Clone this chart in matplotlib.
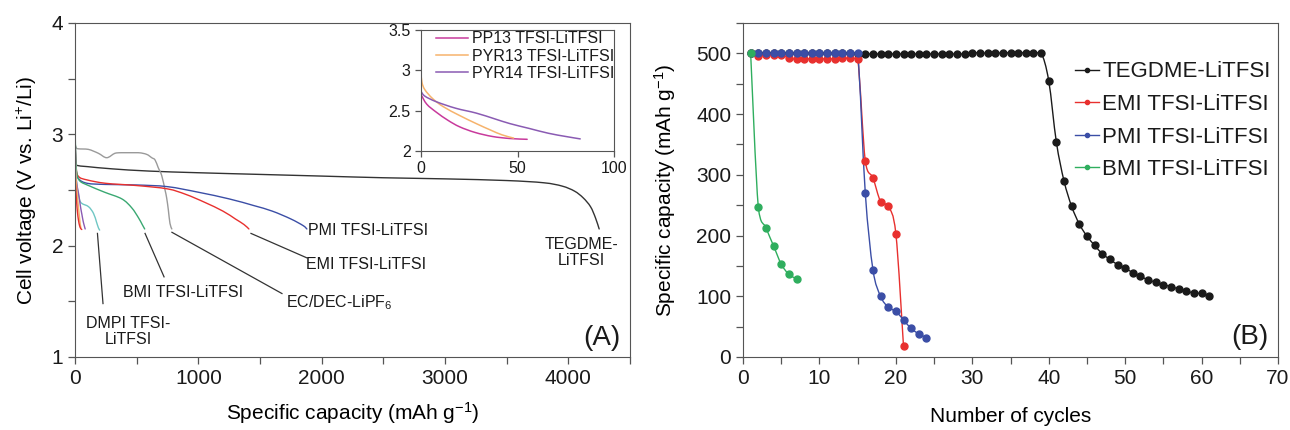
import matplotlib
matplotlib.use("Agg")
import matplotlib.pyplot as plt
from matplotlib.ticker import MultipleLocator
from matplotlib.path import Path
from matplotlib.patches import PathPatch
from matplotlib.lines import Line2D

plt.rcParams['font.family'] = ['Liberation Sans', 'DejaVu Sans']
plt.rcParams['mathtext.fontset'] = 'custom'
plt.rcParams['mathtext.rm'] = 'Liberation Sans'
plt.rcParams['mathtext.it'] = 'Liberation Sans:italic'
plt.rcParams['axes.edgecolor'] = '#555555'
plt.rcParams['text.color'] = '#1a1a1a'
plt.rcParams['xtick.color'] = '#555555'
plt.rcParams['ytick.color'] = '#555555'
plt.rcParams['xtick.labelcolor'] = '#1a1a1a'
plt.rcParams['ytick.labelcolor'] = '#1a1a1a'

# ---------------- (A) discharge profiles ----------------
tegdme_cap = [0, 5, 20, 100, 300, 600, 1000, 1500, 2000, 2500, 3000, 3500, 3800, 3950, 4050, 4120, 4180, 4220, 4250]
tegdme_v = [2.85, 2.74, 2.72, 2.71, 2.69, 2.67, 2.655, 2.64, 2.625, 2.61, 2.60, 2.585, 2.565, 2.535, 2.49, 2.43, 2.35, 2.25, 2.15]

ecdec_cap = [0, 10, 27, 108, 189, 257, 324, 378, 513, 581, 622, 649, 675, 703, 730, 743, 757, 770, 785]
ecdec_v = [2.92, 2.88, 2.87, 2.865, 2.83, 2.79, 2.83, 2.835, 2.835, 2.82, 2.79, 2.77, 2.70, 2.63, 2.50, 2.43, 2.32, 2.20, 2.15]

emi_cap = [0, 10, 30, 100, 250, 500, 750, 900, 1050, 1200, 1300, 1370, 1410]
emi_v = [3.00, 2.70, 2.62, 2.59, 2.56, 2.54, 2.51, 2.46, 2.39, 2.31, 2.24, 2.19, 2.15]

pmi_cap = [0, 10, 30, 100, 250, 500, 750, 1000, 1250, 1450, 1600, 1750, 1850, 1880]
pmi_v = [3.00, 2.68, 2.60, 2.56, 2.55, 2.545, 2.53, 2.48, 2.42, 2.36, 2.31, 2.24, 2.18, 2.15]

bmi_cap = [0, 5, 15, 40, 110, 240, 380, 460, 515, 545, 565]
bmi_v = [3.20, 2.80, 2.65, 2.58, 2.54, 2.48, 2.42, 2.34, 2.25, 2.19, 2.15]

dmpi_cap = [0, 5, 15, 35, 55, 110, 150, 175, 190, 200]
dmpi_v = [3.15, 2.75, 2.55, 2.42, 2.38, 2.35, 2.29, 2.21, 2.16, 2.14]

pp13_cap = [0, 3, 8, 14, 20, 28, 37, 46, 55]
pp13_v = [2.70, 2.58, 2.48, 2.38, 2.30, 2.23, 2.18, 2.155, 2.145]

pyr13_cap = [0, 0.5, 2, 6, 11.5, 20, 28.6, 36, 42, 48]
pyr13_v = [2.97, 2.85, 2.76, 2.65, 2.55, 2.44, 2.34, 2.26, 2.20, 2.16]

pyr14_cap = [0, 2, 8, 18, 28.6, 38, 46, 56, 66, 75, 82.5]
pyr14_v = [2.74, 2.68, 2.61, 2.53, 2.47, 2.40, 2.34, 2.28, 2.22, 2.18, 2.15]

# ---------------- (B) cycling ----------------
tegdme_cyc = list(range(1, 62))
tegdme_q = [500, 500, 500, 500, 500, 500, 500, 500, 500, 500,
            500, 500, 500, 500, 499, 499, 499, 499, 499, 499,
            499, 499, 499, 499, 499, 499, 499, 499, 499, 501,
            501, 500, 500, 501, 501, 501, 501, 501, 501, 455,
            354, 290, 248, 219, 199, 184, 170, 161, 152, 146,
            139, 133, 127, 123, 119, 116, 112, 109, 105, 105, 101]

emi_cyc = list(range(1, 22))
emi_q = [500, 495, 497, 497, 497, 493, 490, 491, 491, 491, 491, 491, 492, 492, 491,
         323, 295, 256, 248, 203, 18]

pmi_cyc = list(range(1, 25))
pmi_q = [500, 501, 501, 501, 501, 501, 501, 501, 501, 501, 501, 501, 501, 501, 501,
         270, 144, 100, 82, 75, 61, 47, 38, 32]

bmi_cyc = list(range(1, 8))
bmi_q = [500, 247, 213, 183, 153, 136, 129]

C_BLACK = '#1a1a1a'
C_RED = '#e8302e'
C_BLUE = '#3b4ea6'
C_GREEN = '#2fae5e'
C_TEAL = '#6fc7c4'
C_GRAY = '#9a9a9a'
C_PP13 = '#c83a9c'
C_PYR13 = '#f6b36c'
C_PYR14 = '#8a5bb3'


def smooth_curve(ax, xs, ys, color, lw=1.0, zorder=2):
    """Draw a smoothed line through the points (cubic Bezier, Catmull-Rom
    tangents, control points kept inside each segment's y range so the
    curve does not overshoot)."""
    n = len(xs)
    verts = [(xs[0], ys[0])]
    codes = [Path.MOVETO]
    for i in range(n - 1):
        x0, y0 = xs[max(i - 1, 0)], ys[max(i - 1, 0)]
        x1, y1 = xs[i], ys[i]
        x2, y2 = xs[i + 1], ys[i + 1]
        x3, y3 = xs[min(i + 2, n - 1)], ys[min(i + 2, n - 1)]
        lo, hi = min(y1, y2), max(y1, y2)
        c1y = min(max(y1 + (y2 - y0) / 6.0, lo), hi)
        c2y = min(max(y2 - (y3 - y1) / 6.0, lo), hi)
        c1 = (x1 + (x2 - x0) / 6.0, c1y)
        c2 = (x2 - (x3 - x1) / 6.0, c2y)
        verts += [c1, c2, (x2, y2)]
        codes += [Path.CURVE4] * 3
    ax.add_patch(PathPatch(Path(verts, codes), facecolor='none', edgecolor=color,
                           lw=lw, zorder=zorder, capstyle='round', joinstyle='round'))


fig = plt.figure(figsize=(12.9, 4.3), dpi=100)
axA = fig.add_axes([75/1290, 73/430, 555/1290, 334/430])
axB = fig.add_axes([743/1290, 73/430, 535/1290, 334/430])
inset = fig.add_axes([421/1290, 279/430, 193/1290, 121/430])

smooth_curve(axA, tegdme_cap, tegdme_v, '#333333')
smooth_curve(axA, ecdec_cap, ecdec_v, C_GRAY)
smooth_curve(axA, pmi_cap, pmi_v, C_BLUE)
smooth_curve(axA, emi_cap, emi_v, C_RED)
smooth_curve(axA, bmi_cap, bmi_v, '#3aa872')
smooth_curve(axA, dmpi_cap, dmpi_v, C_TEAL)
smooth_curve(axA, pyr14_cap, pyr14_v, C_PYR14)
smooth_curve(axA, pyr13_cap, pyr13_v, C_PYR13)
smooth_curve(axA, pp13_cap, pp13_v, C_RED)

axA.set_xlim(0, 4500)
axA.set_ylim(1, 4)
axA.xaxis.set_major_locator(MultipleLocator(1000))
axA.xaxis.set_minor_locator(MultipleLocator(500))
axA.yaxis.set_major_locator(MultipleLocator(1))
axA.yaxis.set_minor_locator(MultipleLocator(0.5))
axA.tick_params(which='both', direction='out', labelsize=15, length=5, width=0.9)
axA.set_xlabel('Specific capacity (mAh g$^{-1}$)', fontsize=15)
axA.set_ylabel('Cell voltage (V vs. Li$^{+}$/Li)', fontsize=15)
axA.xaxis.set_label_coords(0.5, -0.128)
axA.yaxis.set_label_coords(-0.065, 0.5)

# leader lines from curve ends to their labels
leader_x = [[182, 227], [568, 722], [786, 1678], [1427, 1881]]
leader_y = [[2.11, 1.48], [2.11, 1.72], [2.12, 1.57], [2.11, 1.89]]
for lx, ly in zip(leader_x, leader_y):
    axA.plot(lx, ly, color='#333333', lw=0.9)

lab_fs = 11.5
axA.text(430, 1.23, 'DMPI TFSI-\nLiTFSI', ha='center', va='center', fontsize=lab_fs, linespacing=1.1)
axA.text(876, 1.58, 'BMI TFSI-LiTFSI', ha='center', va='center', fontsize=lab_fs)
axA.text(2141, 1.49, 'EC/DEC-LiPF$_6$', ha='center', va='center', fontsize=lab_fs)
axA.text(2359, 1.83, 'EMI TFSI-LiTFSI', ha='center', va='center', fontsize=lab_fs)
axA.text(2376, 2.14, 'PMI TFSI-LiTFSI', ha='center', va='center', fontsize=lab_fs)
axA.text(4103, 1.94, 'TEGDME-\nLiTFSI', ha='center', va='center', fontsize=lab_fs, linespacing=1.1)
axA.text(4273, 1.17, '(A)', ha='center', va='center', fontsize=20)

# inset: low-capacity electrolytes
smooth_curve(inset, pp13_cap, pp13_v, C_PP13, lw=1.1)
smooth_curve(inset, pyr13_cap, pyr13_v, C_PYR13, lw=1.1)
smooth_curve(inset, pyr14_cap, pyr14_v, C_PYR14, lw=1.1)
inset.set_xlim(0, 100)
inset.set_ylim(2, 3.5)
inset.set_xticks([0, 50, 100])
inset.set_yticks([2, 2.5, 3, 3.5])
inset.set_yticklabels(['2', '2.5', '3', '3.5'])
inset.tick_params(direction='out', labelsize=11.5, length=4, width=0.9)
inset_handles = [Line2D([], [], color=c, lw=1.1) for c in (C_PP13, C_PYR13, C_PYR14)]
inset.legend(inset_handles, ['PP13 TFSI-LiTFSI', 'PYR13 TFSI-LiTFSI', 'PYR14 TFSI-LiTFSI'],
             loc='upper left', bbox_to_anchor=(0.08, 0.99), frameon=False, fontsize=11.5,
             handlelength=2.0, handletextpad=0.2, labelspacing=0.15, borderpad=0, borderaxespad=0)

# ---------------- (B) ----------------
ms = 5
series_b = [
    (tegdme_cyc, tegdme_q, C_BLACK, 'TEGDME-LiTFSI'),
    (emi_cyc, emi_q, C_RED, 'EMI TFSI-LiTFSI'),
    (pmi_cyc, pmi_q, C_BLUE, 'PMI TFSI-LiTFSI'),
    (bmi_cyc, bmi_q, C_GREEN, 'BMI TFSI-LiTFSI'),
]
handles_b = []
for k, (cx, cy, col, lab) in enumerate(series_b):
    smooth_curve(axB, cx, cy, col, lw=1.0, zorder=2 + k * 0.1)
    axB.plot(cx, cy, ls='none', marker='o', ms=ms, color=col, zorder=3 + k * 0.1)
    handles_b.append(Line2D([], [], color=col, lw=1.0, marker='o', ms=ms * 0.6))

axB.set_xlim(0, 70)
axB.set_ylim(0, 550)
axB.xaxis.set_major_locator(MultipleLocator(10))
axB.xaxis.set_minor_locator(MultipleLocator(5))
axB.set_yticks([0, 100, 200, 300, 400, 500])
axB.yaxis.set_minor_locator(MultipleLocator(50))
axB.tick_params(which='both', direction='out', labelsize=15, length=5, width=0.9)
axB.set_xlabel('Number of cycles', fontsize=15)
axB.set_ylabel('Specific capacity (mAh g$^{-1}$)', fontsize=15)
axB.xaxis.set_label_coords(0.5, -0.15)
axB.yaxis.set_label_coords(-0.122, 0.5)
axB.legend(handles_b, [s[3] for s in series_b], loc='upper left', bbox_to_anchor=(0.62, 0.885),
           frameon=False, fontsize=16, handlelength=1.1, handletextpad=0.15, labelspacing=0.52,
           numpoints=1, borderpad=0, borderaxespad=0)
axB.text(66.3, 33, '(B)', ha='center', va='center', fontsize=20)

fig.savefig('out.png', dpi=100)
